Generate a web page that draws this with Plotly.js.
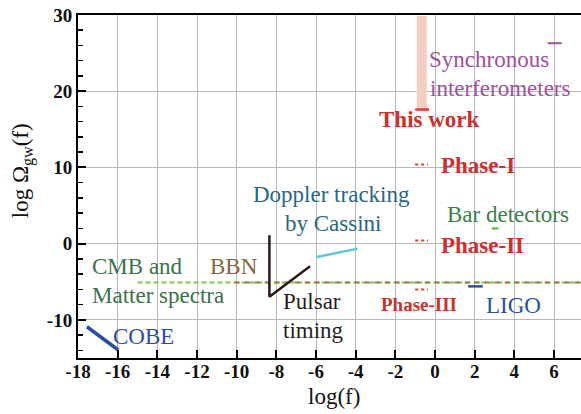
<!DOCTYPE html>
<html>
<head>
<meta charset="utf-8">
<script src="https://cdn.plot.ly/plotly-3.0.1.min.js"></script>
<style>html,body{margin:0;padding:0;background:#fff;}#chart{width:581px;height:414px;}</style>
</head>
<body>
<div id="chart"></div>
<script>
// ---- data ----
const cobeX = [-17.55, -15.97];
const cobeY = [-10.9, -13.95];
const pulsarX = [-8.35, -8.35, -6.3];
const pulsarY = [1.1, -6.95, -2.95];
const cassiniX = [-5.96, -3.91];
const cassiniY = [-1.75, -0.65];
const cmbX = [-15.0, 7.4];
const cmbY = [-5.1, -5.1];
const bbnX = [-10.1, 7.4];
const bbnY = [-5.1, -5.1];
const thisWorkBandX = [-0.67, -0.67];
const thisWorkBandY = [17.7, 29.9];
const thisWorkX = [-1.0, -0.3];
const thisWorkY = [17.6, 17.6];
const syncX = [5.68, 6.39];
const syncY = [26.3, 26.3];
const phase1X = [-1.0, -0.35];
const phase1Y = [10.4, 10.4];
const phase2X = [-1.0, -0.35];
const phase2Y = [0.4, 0.4];
const phase3X = [-1.0, -0.35];
const phase3Y = [-6.0, -6.0];
const barX = [2.86, 3.2];
const barY = [2.0, 2.0];
const ligoX = [1.67, 2.41];
const ligoY = [-5.6, -5.6];

const xTickVals = [-18, -16, -14, -12, -10, -8, -6, -4, -2, 0, 2, 4, 6];
const xTickText = ['-18', '-16', '-14', '-12', '-10', '-8', '-6', '-4', '-2', '0', '2', '4', '6'];
const yTickVals = [-10, 0, 10, 20, 30];
const yTickText = ['-10', '0', '10', '20', '30'];

const labelTexts = {
  sync1: 'Synchronous', sync2: 'interferometers', thisWork: 'This work',
  phase1: 'Phase-I', doppler1: 'Doppler tracking', doppler2: 'by Cassini',
  bar: 'Bar detectors', phase2: 'Phase-II', cmb1: 'CMB and', cmb2: 'Matter spectra',
  bbn: 'BBN', pulsar1: 'Pulsar', pulsar2: 'timing', phase3: 'Phase-III',
  ligo: 'LIGO', cobe: 'COBE'
};
const xTitle = 'log(f)';
const yTitle = 'log Ω<sub>gw</sub>(f)';

// ---- styles ----
const SERIF = 'Liberation Serif';
const RED = '#d0302c';
const BLUE = '#2b4f9e';

function seg(x, y, color, width, dash) {
  return {x: x, y: y, mode: 'lines', type: 'scatter', hoverinfo: 'skip', showlegend: false,
    line: {color: color, width: width, dash: dash || 'solid'}};
}

const traces = [
  seg(thisWorkBandX, thisWorkBandY, '#f6cfc4', 10),
  seg(cmbX, cmbY, '#7cc84a', 2, '5px,3px'),
  seg(bbnX, bbnY, '#a07850', 2, '5px,5px'),
  seg(cobeX, cobeY, BLUE, 3.5),
  seg(pulsarX, pulsarY, '#2a1b18', 2.5),
  seg(cassiniX, cassiniY, '#5cc6da', 2.5),
  seg(thisWorkX, thisWorkY, '#e8382c', 2.5),
  seg(syncX, syncY, '#a0509c', 2),
  seg(phase1X, phase1Y, '#f03a2a', 2, 'dot'),
  seg(phase2X, phase2Y, '#f03a2a', 2, 'dot'),
  seg(phase3X, phase3Y, '#f03a2a', 2, 'dot'),
  seg(barX, barY, '#6cc04a', 2.5),
  seg(ligoX, ligoY, BLUE, 2.5)
];

function lab(text, x, y, color, size, bold, anchor) {
  const font = {family: SERIF, size: size, color: color};
  if (bold) font.weight = 'bold';
  return {text: text, x: x, y: y, xref: 'x', yref: 'y', showarrow: false,
    xanchor: anchor || 'left', yanchor: 'middle', font: font};
}

const annotations = [
  lab(labelTexts.sync1, -0.40, 24.16, '#a0509c', 23),
  lab(labelTexts.sync2, -0.35, 20.38, '#a0509c', 23),
  lab(labelTexts.thisWork, -2.95, 16.3, RED, 23, true),
  lab(labelTexts.phase1, 0.22, 10.2, RED, 23, true),
  lab(labelTexts.doppler1, -5.24, 6.44, '#2a6686', 23, false, 'center'),
  lab(labelTexts.doppler2, -5.12, 2.66, '#2a6686', 23, false, 'center'),
  lab(labelTexts.bar, 0.52, 3.82, '#3b7f48', 23),
  lab(labelTexts.phase2, 0.18, -0.22, RED, 23, true),
  lab(labelTexts.cmb1, -17.4, -2.96, '#3a7348', 23),
  lab(labelTexts.cmb2, -17.4, -6.74, '#3a7348', 23),
  lab(labelTexts.bbn, -11.45, -2.96, '#8a6440', 23),
  lab(labelTexts.pulsar1, -7.78, -7.65, '#2a1e1e', 23),
  lab(labelTexts.pulsar2, -7.78, -11.43, '#2a1e1e', 23),
  lab(labelTexts.phase3, -2.8, -8.04, RED, 19, true),
  lab(labelTexts.ligo, 2.48, -8.17, BLUE, 23),
  lab(labelTexts.cobe, -16.35, -12.18, BLUE, 23),
  {text: xTitle, x: -5.07, y: -0.113, xref: 'x', yref: 'paper', showarrow: false,
    xanchor: 'center', yanchor: 'middle', font: {family: SERIF, size: 23, color: '#111'}},
  {text: yTitle, x: -0.111, y: 0.545, xref: 'paper', yref: 'paper', showarrow: false,
    textangle: -90, xanchor: 'center', yanchor: 'middle', font: {family: SERIF, size: 23, color: '#111'}}
];

const layout = {
  width: 581, height: 414,
  margin: {l: 78, r: 0, t: 15, b: 56, pad: 0},
  paper_bgcolor: '#fff', plot_bgcolor: '#fff',
  showlegend: false,
  xaxis: {
    range: [-18, 7.36], tickvals: xTickVals, ticktext: xTickText,
    showgrid: true, gridcolor: '#b8b8b8', gridwidth: 1, zeroline: false,
    showline: true, linecolor: '#000', linewidth: 2, mirror: true,
    ticks: 'inside', ticklen: 8, tickwidth: 2, tickcolor: '#000',
    ticklabelstandoff: -5,
    tickfont: {family: SERIF, size: 19, color: '#111', weight: 'bold'}
  },
  yaxis: {
    range: [-15, 30], tickvals: yTickVals, ticktext: yTickText,
    showgrid: true, gridcolor: '#b8b8b8', gridwidth: 1, zeroline: false,
    showline: true, linecolor: '#000', linewidth: 2,
    ticks: 'inside', ticklen: 8, tickwidth: 2, tickcolor: '#000',
    minor: {dtick: 2, ticks: 'inside', ticklen: 5, tickwidth: 1.5, tickcolor: '#000', showgrid: false},
    tickfont: {family: SERIF, size: 19, color: '#111', weight: 'bold'}
  },
  annotations: annotations
};

Plotly.newPlot('chart', traces, layout, {displayModeBar: false, staticPlot: true});
</script>
</body>
</html>
